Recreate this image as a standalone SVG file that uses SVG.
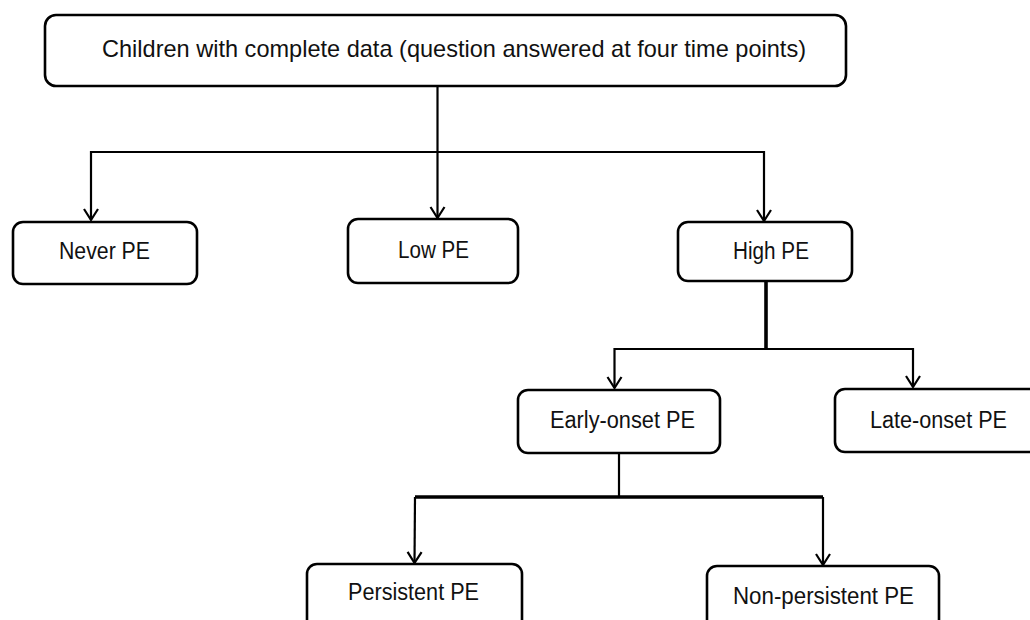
<svg xmlns="http://www.w3.org/2000/svg" width="1030" height="620" viewBox="0 0 1030 620">
<defs>
<marker id="arr" markerWidth="14" markerHeight="16" refX="12" refY="8" orient="auto-start-reverse" markerUnits="userSpaceOnUse" viewBox="0 0 14 16" overflow="visible">
<polyline points="1,1 12,8 1,15" fill="none" stroke="#000" stroke-width="2.2"/>
</marker>
<style>
.box{fill:#fff;stroke:#000;stroke-width:2.6}
.lbl{font-family:"Liberation Sans",Arial,sans-serif;font-size:23px;fill:#111}
.ln{fill:none;stroke:#000;stroke-width:2.2}
.thick{fill:none;stroke:#000;stroke-width:3.6}
</style>
</defs>
<rect width="1030" height="620" fill="#fff"/>
<g id="connectors">
<line class="ln" x1="437.5" y1="86" x2="437.5" y2="218" marker-end="url(#arr)"/>
<polyline class="ln" points="91,220 91,152 764,152 764,221" marker-start="url(#arr)" marker-end="url(#arr)"/>
<line class="thick" x1="766" y1="281" x2="766" y2="349"/>
<polyline class="ln" points="614.5,388 614.5,349 913,349 913,387" marker-start="url(#arr)" marker-end="url(#arr)"/>
<line class="ln" x1="619" y1="453" x2="619" y2="497"/>
<line class="thick" x1="415" y1="497" x2="823" y2="497"/>
<line class="ln" x1="415" y1="497" x2="414.5" y2="563" marker-end="url(#arr)"/>
<line class="ln" x1="823" y1="497" x2="823" y2="565" marker-end="url(#arr)"/>
</g>
<g id="node-root">
<rect class="box" x="45" y="15" width="801" height="71" rx="11"/>
<text class="lbl" x="102" y="57" textLength="704" lengthAdjust="spacingAndGlyphs" style="font-size:24px">Children with complete data (question answered at four time points)</text>
</g>
<g id="node-never">
<rect class="box" x="13" y="222" width="184" height="62" rx="10"/>
<text class="lbl" x="59" y="259" textLength="91" lengthAdjust="spacingAndGlyphs">Never PE</text>
</g>
<g id="node-low">
<rect class="box" x="348" y="219" width="170" height="64" rx="10"/>
<text class="lbl" x="398" y="258" textLength="71" lengthAdjust="spacingAndGlyphs">Low PE</text>
</g>
<g id="node-high">
<rect class="box" x="678" y="222" width="174" height="59" rx="10"/>
<text class="lbl" x="733" y="259" textLength="76" lengthAdjust="spacingAndGlyphs">High PE</text>
</g>
<g id="node-early">
<rect class="box" x="518" y="390" width="202" height="63" rx="10"/>
<text class="lbl" x="550" y="428" textLength="145" lengthAdjust="spacingAndGlyphs">Early-onset PE</text>
</g>
<g id="node-late">
<rect class="box" x="835" y="389" width="215" height="63" rx="10"/>
<text class="lbl" x="870" y="428" textLength="137" lengthAdjust="spacingAndGlyphs">Late-onset PE</text>
</g>
<g id="node-persistent">
<rect class="box" x="307" y="564" width="215" height="80" rx="10"/>
<text class="lbl" x="348" y="600" textLength="131" lengthAdjust="spacingAndGlyphs">Persistent PE</text>
</g>
<g id="node-nonpersistent">
<rect class="box" x="707" y="566" width="232" height="80" rx="10"/>
<text class="lbl" x="733" y="604" textLength="181" lengthAdjust="spacingAndGlyphs">Non-persistent PE</text>
</g>
</svg>
